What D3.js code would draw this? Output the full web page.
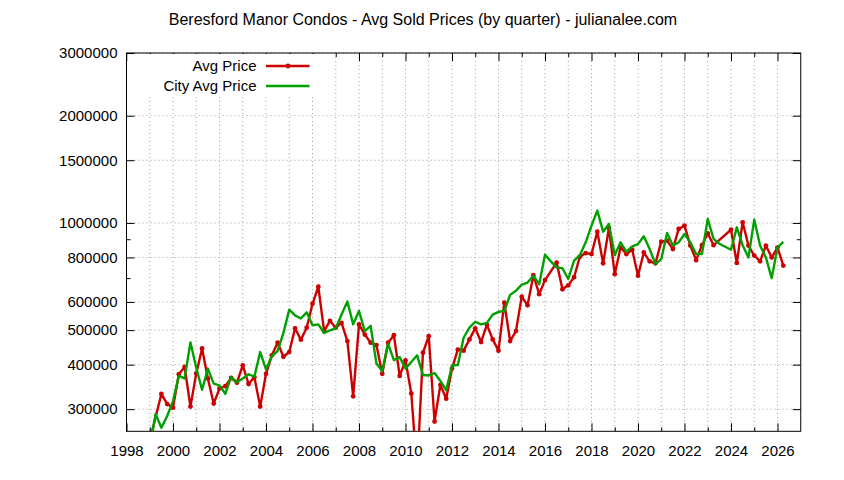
<!DOCTYPE html>
<html>
<head>
<meta charset="utf-8">
<script src="https://cdn.jsdelivr.net/npm/d3@7"></script>
<style>
body { margin: 0; background: #fff; }
text { font-family: "Liberation Sans", Arial, sans-serif; font-size: 15px; fill: #000; }
</style>
</head>
<body>
<div id="chart"></div>
<script>
// quarters (decimal years) and avg sold prices
var avgYears = [1999.0, 1999.5, 1999.75,
  2000.0, 2000.25, 2000.5, 2000.75, 2001.0, 2001.25, 2001.5, 2001.75,
  2002.0, 2002.25, 2002.5, 2002.75, 2003.0, 2003.25, 2003.5, 2003.75,
  2004.0, 2004.25, 2004.5, 2004.75, 2005.0, 2005.25, 2005.5, 2005.75,
  2006.0, 2006.25, 2006.5, 2006.75, 2007.0, 2007.25, 2007.5, 2007.75,
  2008.0, 2008.25, 2008.5, 2008.75, 2009.0, 2009.25, 2009.5, 2009.75,
  2010.0, 2010.25, 2010.5, 2010.75, 2011.0, 2011.25, 2011.5, 2011.75,
  2012.0, 2012.25, 2012.5, 2012.75, 2013.0, 2013.25, 2013.5, 2013.75,
  2014.0, 2014.25, 2014.5, 2014.75, 2015.0, 2015.25, 2015.5, 2015.75,
  2016.0, 2016.5, 2016.75, 2017.0, 2017.25, 2017.5, 2017.75,
  2018.0, 2018.25, 2018.5, 2018.75, 2019.0, 2019.25, 2019.5, 2019.75,
  2020.0, 2020.25, 2020.5, 2020.75, 2021.0, 2021.25, 2021.5, 2021.75,
  2022.0, 2022.25, 2022.5, 2022.75, 2023.0, 2023.25,
  2024.0, 2024.25, 2024.5, 2024.75, 2025.0, 2025.25, 2025.5, 2025.75,
  2026.0, 2026.25];
var avgPrice = [245000, 331000, 310000,
  303000, 376000, 394000, 305000, 378000, 444000, 366000, 311000,
  343000, 348000, 367000, 356000, 398000, 353000, 369000, 305000,
  377000, 425000, 461000, 421000, 434000, 506000, 470000, 508000,
  593000, 662000, 497000, 531000, 508000, 524000, 466000, 326000,
  519000, 486000, 461000, 454000, 377000, 461000, 484000, 372000,
  411000, 332000, 200000, 432000, 481000, 277000, 351000, 321000,
  390000, 441000, 438000, 471000, 506000, 463000, 518000, 471000,
  438000, 597000, 466000, 497000, 621000, 587000, 713000, 631000,
  691000, 774000, 651000, 668000, 704000, 804000, 823000,
  818000, 945000, 770000, 968000, 718000, 853000, 818000, 841000,
  711000, 826000, 780000, 770000, 886000, 892000, 845000, 962000,
  983000, 864000, 786000, 866000, 935000, 866000,
  957000, 772000, 1004000, 864000, 810000, 780000, 864000, 800000,
  853000, 759000];

var cityYears = d3.range(1999, 2026.3, 0.25);
var cityPrice = [232000, 291000, 266000, 287000,
  316000, 372000, 366000, 462000, 392000, 340000, 390000, 354000,
  350000, 331000, 369000, 357000, 366000, 376000, 370000, 434000,
  388000, 423000, 437000, 491000, 571000, 550000, 539000, 561000,
  516000, 519000, 491000, 499000, 506000, 553000, 602000, 519000,
  566000, 497000, 514000, 403000, 384000, 458000, 412000, 420000,
  390000, 407000, 425000, 374000, 373000, 379000, 360000, 339000,
  398000, 399000, 476000, 508000, 528000, 519000, 524000, 553000,
  563000, 566000, 628000, 645000, 671000, 680000, 711000, 673000,
  814000, 780000, 750000, 746000, 696000, 784000, 812000, 882000,
  983000, 1083000, 945000, 994000, 812000, 882000, 830000, 859000,
  872000, 917000, 845000, 766000, 791000, 937000, 864000, 882000,
  931000, 882000, 818000, 818000, 1026000, 902000, 874000, 857000,
  841000, 972000, 866000, 800000, 1022000, 864000, 800000, 700000,
  853000, 885000];

var yMajorTicks = [300000, 400000, 500000, 600000, 800000, 1000000, 1500000, 2000000, 3000000];
var yMinorTicks = [700000, 900000];
var xMajorTicks = d3.range(1998, 2027, 2);
var xMinorTicks = d3.range(1999, 2027, 2);
var seriesNames = ["Avg Price", "City Avg Price"];

var W = 844, H = 480;
var margin = {top: 53, right: 43.25, bottom: 48.7, left: 126.5},
    w = W - margin.left - margin.right,
    h = H - margin.top - margin.bottom;

var svg = d3.select("#chart").append("svg")
  .attr("width", W)
  .attr("height", H);

svg.append("rect").attr("width", W).attr("height", H).attr("fill", "#fff");

svg.append("text")
  .attr("x", 423)
  .attr("y", 25)
  .attr("text-anchor", "middle")
  .style("font-size", "16px")
  .text("Beresford Manor Condos - Avg Sold Prices (by quarter) - julianalee.com");

var g = svg.append("g")
  .attr("transform", "translate(" + margin.left + "," + margin.top + ")");

var xScale = d3.scaleLinear().domain([1998, 2027]).range([0, w]);
var yScale = d3.scaleLog().domain([260000, 3000000]).range([h, 0]);

// grid
g.selectAll(".vgrid").data(d3.range(1999, 2027)).enter()
  .append("line")
  .attr("class", "vgrid")
  .attr("x1", function(d) { return xScale(d); })
  .attr("x2", function(d) { return xScale(d); })
  .attr("y1", 0).attr("y2", h)
  .attr("stroke", "#a0a0a0").attr("stroke-width", 1)
  .attr("stroke-dasharray", "1,3");

g.selectAll(".hgrid").data(yMajorTicks).enter()
  .append("line")
  .attr("class", "hgrid")
  .attr("x1", 0).attr("x2", w)
  .attr("y1", function(d) { return yScale(d); })
  .attr("y2", function(d) { return yScale(d); })
  .attr("stroke", "#a0a0a0").attr("stroke-width", 1)
  .attr("stroke-dasharray", "1,3");

// axes, ticks pointing inward
var yAxis = d3.axisLeft(yScale).tickValues(yMajorTicks).tickSizeInner(-8).tickSizeOuter(0)
  .tickPadding(9).tickFormat(d3.format("d"));
var yAxisR = d3.axisRight(yScale).tickValues(yMajorTicks).tickSizeInner(-8).tickSizeOuter(0)
  .tickFormat("");
var xAxis = d3.axisBottom(xScale).tickValues(xMajorTicks).tickSizeInner(-8).tickSizeOuter(0)
  .tickPadding(14.5).tickFormat(d3.format("d"));
var xAxisT = d3.axisTop(xScale).tickValues(xMajorTicks).tickSizeInner(-8).tickSizeOuter(0)
  .tickFormat("");

g.append("g").attr("class", "y_axis").call(yAxis);
g.append("g").attr("transform", "translate(" + w + ",0)").call(yAxisR);
g.append("g").attr("class", "x_axis").attr("transform", "translate(0," + h + ")").call(xAxis);
g.append("g").call(xAxisT);

// minor ticks
g.append("g").call(d3.axisLeft(yScale).tickValues(yMinorTicks).tickSize(-4).tickFormat(""));
g.append("g").attr("transform", "translate(" + w + ",0)")
  .call(d3.axisRight(yScale).tickValues(yMinorTicks).tickSize(-4).tickFormat(""));
g.append("g").attr("transform", "translate(0," + h + ")")
  .call(d3.axisBottom(xScale).tickValues(xMinorTicks).tickSize(-4).tickFormat(""));
g.append("g").call(d3.axisTop(xScale).tickValues(xMinorTicks).tickSize(-4).tickFormat(""));

g.selectAll(".domain").remove();
g.selectAll(".tick line").attr("stroke", "#000");
g.selectAll(".tick text").style("font-size", "15px").attr("fill", "#000");

// opaque key box
g.append("rect")
  .attr("x", 1).attr("y", 1)
  .attr("width", 190).attr("height", 43)
  .attr("fill", "#fff");

// border
g.append("rect")
  .attr("width", w).attr("height", h)
  .attr("fill", "none").attr("stroke", "#000").attr("stroke-width", 1);

// data
g.append("clipPath").attr("id", "plotclip")
  .append("rect").attr("width", w).attr("height", h);

var plot = g.append("g").attr("clip-path", "url(#plotclip)");

var avgData = avgYears.map(function(d, i) { return {x: d, y: avgPrice[i]}; });
var cityData = cityYears.map(function(d, i) { return {x: d, y: cityPrice[i]}; });

var line = d3.line()
  .x(function(d) { return xScale(d.x); })
  .y(function(d) { return yScale(d.y); });

plot.append("path").datum(avgData)
  .attr("d", line)
  .attr("fill", "none").attr("stroke", "#cc0000").attr("stroke-width", 2.4)
  .attr("stroke-linejoin", "round");

plot.selectAll(".pt").data(avgData).enter()
  .append("circle")
  .attr("class", "pt")
  .attr("cx", function(d) { return xScale(d.x); })
  .attr("cy", function(d) { return yScale(d.y); })
  .attr("r", 2.4)
  .attr("fill", "#cc0000");

plot.append("path").datum(cityData)
  .attr("d", line)
  .attr("fill", "none").attr("stroke", "#00a000").attr("stroke-width", 2.4)
  .attr("stroke-linejoin", "round");

// key
var key = svg.append("g");
var colors = ["#cc0000", "#00a000"];
seriesNames.forEach(function(name, i) {
  var ky = 66 + i * 20;
  key.append("text")
    .attr("x", 256.5).attr("y", ky)
    .attr("dy", "0.35em")
    .attr("text-anchor", "end")
    .text(name);
  key.append("line")
    .attr("x1", 266).attr("x2", 309.5)
    .attr("y1", ky).attr("y2", ky)
    .attr("stroke", colors[i]).attr("stroke-width", 2.4);
  if (i == 0) {
    key.append("circle").attr("cx", 288).attr("cy", ky).attr("r", 2.4).attr("fill", colors[i]);
  }
});
</script>
</body>
</html>
